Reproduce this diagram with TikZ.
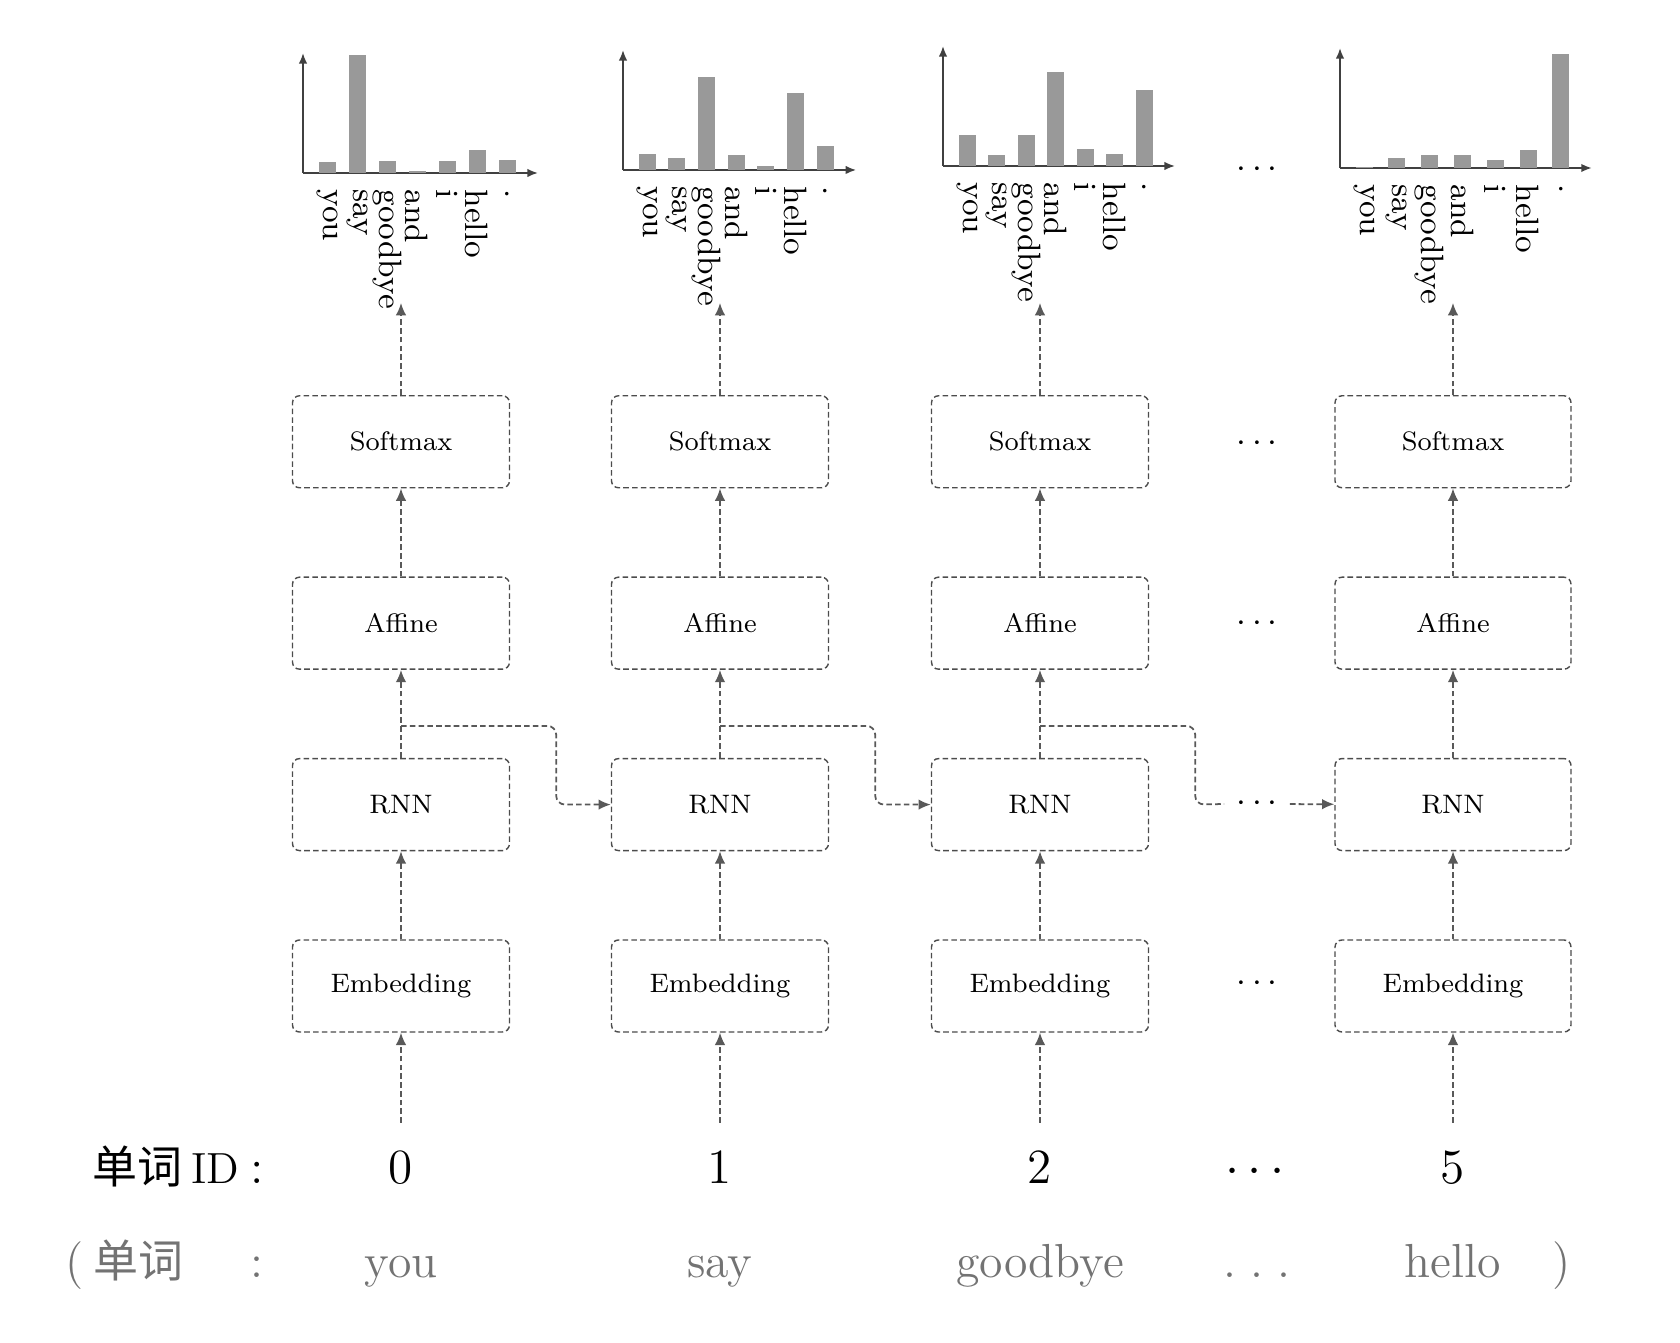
\documentclass[tikz,border=0pt]{standalone}
\usepackage{fontspec}
\newfontfamily\cjk{Noto Sans CJK SC}
\usepackage{tikz}
\usetikzlibrary{arrows.meta, positioning}

% probability chart: origin x, origin y, bar spacing, bar heights
\newcommand{\probchart}[4]{%
    \draw[chartaxis] (#1,#2) -- ++(0,1.2);
    \draw[chartaxis] (#1,#2) -- ++({6*#3+0.55},0);
    \foreach \h [count=\i from 0] in {#4}
        \fill[barfill] ({#1+0.24+\i*#3-0.085},#2) rectangle ++(0.17,\h);
    \foreach \w [count=\i from 0] in {you,say,goodbye,and,i,hello,.}
        \node[barlabel] at ({#1+0.24+\i*#3},#2-0.16) {\w};
}

\begin{document}
\begin{tikzpicture}[
    node distance=0.88cm,
    layer/.style={rectangle, draw=black!70, dash pattern=on 1.6pt off 0.9pt, rounded corners=2pt, minimum width=2.17cm, minimum height=0.92cm, font=\fontsize{7.6}{9}\selectfont},
    wide/.style={minimum width=2.36cm},
    flow/.style={-{Latex[length=3.5pt,width=3pt]}, draw=black!65, dash pattern=on 1.6pt off 0.9pt, line width=0.5pt},
    chartaxis/.style={-{Latex[length=3pt,width=2.4pt]}, draw=black!75, line width=0.5pt},
    barfill/.style={fill=black!40},
    barlabel/.style={rotate=-90, anchor=west, inner sep=0pt, font=\fontsize{9.2}{11}\selectfont},
    idnum/.style={anchor=base, font=\fontsize{14}{16}\selectfont},
    word/.style={anchor=base, text=black!55, font=\fontsize{13.6}{16}\selectfont},
    etc/.style={font=\fontsize{10}{12}\selectfont}
]
    \useasboundingbox (0,0) rectangle (16.8,13.42);

    % Output distributions
    \probchart{3.03}{11.69}{0.30}{0.11,1.18,0.12,0.02,0.12,0.23,0.13}
    \probchart{6.23}{11.72}{0.297}{0.16,0.12,0.93,0.15,0.04,0.77,0.24}
    \probchart{9.43}{11.76}{0.295}{0.31,0.11,0.31,0.94,0.17,0.12,0.76}
    \probchart{13.40}{11.74}{0.328}{0.01,0.10,0.13,0.13,0.08,0.18,1.14}
    \coordinate (top0) at (4.01,10.39);
    \coordinate (top1) at (7.20,10.39);
    \coordinate (top2) at (10.40,10.39);
    \coordinate (top3) at (14.53,10.39);

    % Layer stacks
    \node[layer] (emb0) at (4.01,3.56) {Embedding};
    \node[layer] (emb1) at (7.20,3.56) {Embedding};
    \node[layer] (emb2) at (10.40,3.56) {Embedding};
    \node[layer, wide] (emb3) at (14.53,3.56) {Embedding};
    \node[layer, above=of emb0] (rnn0) {RNN};
    \node[layer, above=of emb1] (rnn1) {RNN};
    \node[layer, above=of emb2] (rnn2) {RNN};
    \node[layer, wide, above=of emb3] (rnn3) {RNN};
    \node[layer, above=of rnn0] (aff0) {Affine};
    \node[layer, above=of rnn1] (aff1) {Affine};
    \node[layer, above=of rnn2] (aff2) {Affine};
    \node[layer, wide, above=of rnn3] (aff3) {Affine};
    \node[layer, above=of aff0] (soft0) {Softmax};
    \node[layer, above=of aff1] (soft1) {Softmax};
    \node[layer, above=of aff2] (soft2) {Softmax};
    \node[layer, wide, above=of aff3] (soft3) {Softmax};

    % Word IDs and words
    \node[anchor=base west] (idlabel) at (0.80,1.59) {{\cjk\fontsize{12.8}{15}\selectfont 单词}\hspace{0.25em}{\fontsize{12.4}{15}\selectfont ID}};
    \node[idnum] (idcolon) at (2.57,1.59) {:};
    \node[idnum] (id0) at (4.01,1.59) {0};
    \node[idnum] (id1) at (7.20,1.59) {1};
    \node[idnum] (id2) at (10.40,1.59) {2};
    \node[idnum] (id3) at (14.53,1.59) {5};
    \node[word, anchor=base west] (wordlabel) at (0.53,0.65) {(\hspace{0.2em}{\cjk\fontsize{12.8}{15}\selectfont 单词}};
    \node[word] (wordcolon) at (2.57,0.65) {:};
    \node[word] (word0) at (4.01,0.65) {you};
    \node[word] (word1) at (7.20,0.65) {say};
    \node[word] (word2) at (10.40,0.65) {goodbye};
    \node[word] (word3) at (14.53,0.65) {hello};
    \node[word] (wordclose) at (15.62,0.65) {)};

    % Ellipses
    \node[etc] (dchart) at (12.57,11.72) {$\cdots$};
    \node[etc] (dsoft) at (12.57,8.98) {$\cdots$};
    \node[etc] (daff) at (12.57,7.18) {$\cdots$};
    \node[etc] (drnn) at (12.57,5.38) {$\cdots$};
    \node[etc] (demb) at (12.57,3.58) {$\cdots$};
    \node[idnum] (did) at (12.55,1.59) {$\cdots$};
    \node[word] (dword) at (12.57,0.65) {.\hspace{0.3em}.\hspace{0.3em}.};

    % Forward flow
    \foreach \c in {0,1,2,3} {
        \draw[flow] ([yshift=0.15cm]id\c.north) -- (emb\c);
        \draw[flow] (emb\c) -- (rnn\c);
        \draw[flow] (rnn\c) -- (aff\c);
        \draw[flow] (aff\c) -- (soft\c);
        \draw[flow] (soft\c) -- (top\c);
    }

    % Hidden state
    \draw[flow, rounded corners=2.5pt] ([yshift=0.32cm]rnn0.north) -| ([xshift=0.46cm]rnn0.east) -- (rnn1.west);
    \draw[flow, rounded corners=2.5pt] ([yshift=0.32cm]rnn1.north) -| ([xshift=0.46cm]rnn1.east) -- (rnn2.west);
    \draw[flow, -, rounded corners=2.5pt] ([yshift=0.32cm]rnn2.north) -| ([xshift=0.46cm]rnn2.east) -- (drnn.west);
    \draw[flow] (drnn) -- (rnn3);
\end{tikzpicture}
\end{document}
